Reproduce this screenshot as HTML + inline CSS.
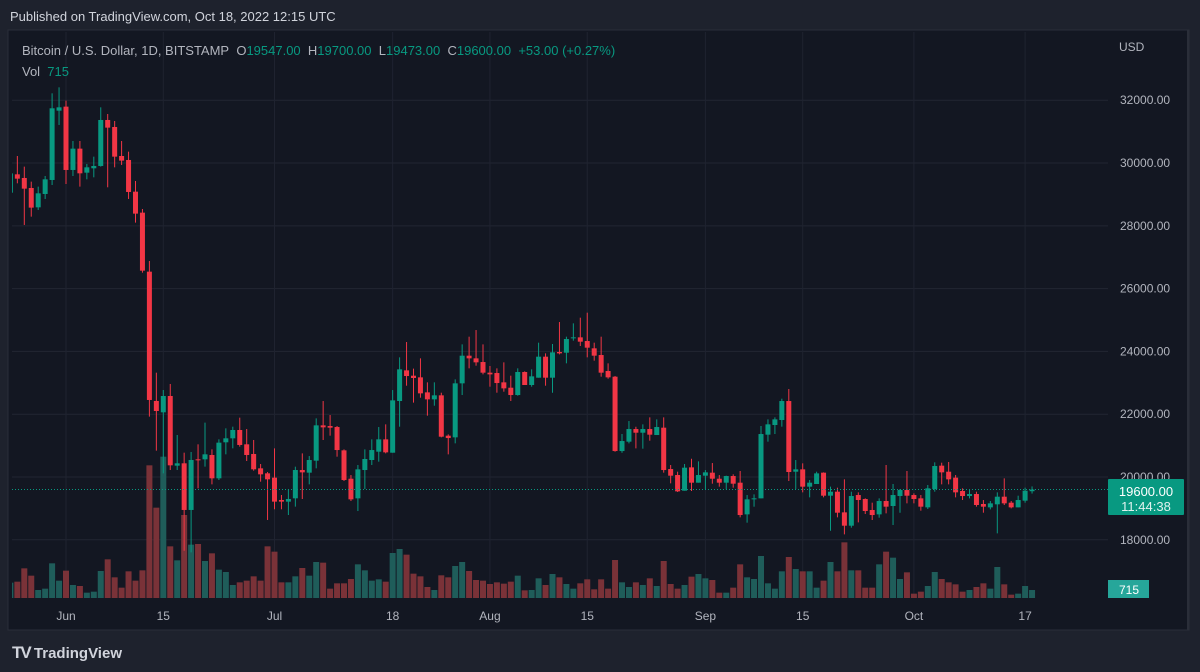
<!DOCTYPE html>
<html><head><meta charset="utf-8">
<style>
html,body{margin:0;padding:0;background:#1e222d;width:1200px;height:672px;overflow:hidden;font-family:"Liberation Sans",sans-serif}
#pub{position:absolute;left:10px;top:9px;color:#d1d4dc;font-size:13px}
#chart{position:absolute;left:0;top:0}
#legend{position:absolute;left:22px;top:40px;color:#b2b5be;font-size:13px;line-height:21px}
.g{color:#089981}
#footer{position:absolute;left:12px;top:643px;color:#d1d4dc;font-size:15px;font-weight:bold}
</style></head><body>
<div id="pub">Published on TradingView.com, Oct 18, 2022 12:15 UTC</div>
<svg id="chart" width="1200" height="672"></svg>
<div id="legend">
<div>Bitcoin / U.S. Dollar, 1D, BITSTAMP&nbsp; O<span class="g">19547.00</span>&nbsp; H<span class="g">19700.00</span>&nbsp; L<span class="g">19473.00</span>&nbsp; C<span class="g">19600.00</span>&nbsp; <span class="g">+53.00 (+0.27%)</span></div>
<div>Vol&nbsp; <span class="g">715</span></div>
</div>
<div id="footer"><span style="font-size:17px;letter-spacing:-2px">TV</span> TradingView</div>
<script>
const opens=[29055,29640,29524,29205,28589,29014,29460,31668,31796,29779,30458,29693,29832,29906,31371,31148,30224,30097,29088,28420,26540,22421,22060,22580,20361,20436,18950,20563,20563,20701,19958,21105,21232,21497,21041,20733,20276,20117,19979,19268,19215,19321,20222,20138,20520,21645,21624,21592,20849,19946,19320,20222,20541,20806,21199,20774,22420,23397,23227,23174,22696,22473,22601,21316,21263,22983,23864,23779,23662,23323,23312,23015,22844,22611,23344,22930,23163,23832,23163,23981,23959,24416,24448,24331,24098,23885,23376,23195,20827,21125,21528,21411,21528,21337,21571,20254,20063,19564,20307,19819,20042,20138,19946,19819,20031,19819,18810,19299,19320,21348,21656,21815,22420,20169,20244,19692,19777,20138,19405,19532,18874,18449,19426,19299,18949,18810,19235,19076,19394,19585,19426,19320,19033,19617,20361,20169,19979,19554,19394,19458,19140,19033,19130,19373,19182,19033,19246,19547];
const highs=[29700,30224,29885,29407,29248,29587,32220,32411,31987,30702,30702,29970,30203,31774,31562,31339,30702,30362,29428,28536,26880,23323,22771,22963,21338,20775,20797,21041,21731,20881,21200,21550,21603,21890,21529,21179,20414,20160,20913,19427,19607,20329,20753,20668,21868,22420,21974,21624,20880,20063,20382,20880,21199,21592,21677,22770,23811,24299,23450,23779,23015,23015,22685,21358,23110,24225,24469,24681,24225,23535,23461,23652,23227,23461,23365,23429,24278,23938,24236,24936,24469,24894,25074,25234,24278,24469,23620,23216,21369,21783,21600,21677,21900,21836,21900,20382,20169,20414,20583,20498,20222,20445,20063,20042,20085,20191,19426,19447,21624,21836,21900,22494,22802,20541,20435,19904,20169,20148,19692,19660,19926,19532,19511,19320,19182,19320,20382,19777,19617,20191,19479,19426,19745,20467,20456,20478,20063,19639,19607,19532,19267,19235,19511,19957,19235,19405,19660,19700];
const lows=[29000,29354,28027,28292,28505,28855,29300,31212,29333,29587,29248,29481,29545,29885,29227,29863,29938,28855,28101,26508,21922,20839,20117,20223,20223,17650,17600,19639,20329,19766,19904,20722,20913,20966,20510,20202,19851,18631,18971,18971,18790,19056,19299,19766,20276,21178,21316,20647,19872,19235,18916,19617,20382,20488,20753,20774,21602,22908,22367,22526,21953,22271,21263,20721,21072,22611,23461,23545,23269,22876,22685,22717,22420,22590,22930,22876,23163,22908,22685,23906,23620,24342,24172,23811,23705,23195,23131,20806,20774,21072,20912,20902,21157,21337,20138,19798,19522,19564,19553,19819,19617,19787,19692,19607,19660,18715,18545,19054,19320,21125,21369,21603,19872,19617,19511,19352,19777,19352,18290,18715,18173,18386,18555,18821,18630,18704,18842,18471,18863,19161,19161,18927,18980,19532,19766,19766,19352,19267,19320,19055,18863,18969,18205,19108,19001,19033,19182,19473];
const closes=[29670,29502,29184,28579,29035,29481,31743,31774,29779,30458,29672,29863,29906,31371,31127,30203,30076,29078,28388,26572,22453,22102,22580,20372,20436,18950,20542,20542,20722,19958,21094,21232,21497,21020,20701,20245,20085,19926,19215,19215,19300,20223,20148,20541,21645,21581,21571,20859,19904,19288,20244,20573,20859,21199,20785,22441,23429,23216,23153,22664,22473,22601,21284,21241,22983,23864,23779,23652,23323,23269,22993,22823,22611,23344,22930,23206,23832,23163,23970,23938,24395,24448,24310,24119,23864,23323,23174,20827,21146,21528,21411,21528,21348,21592,20222,20042,19543,20297,19819,20063,20148,19946,19819,20031,19787,18789,19288,19320,21369,21677,21836,22420,20159,20244,19692,19819,20116,19405,19532,18863,18449,19394,19267,18917,18789,19235,19055,19426,19585,19405,19299,19055,19639,20350,20148,19925,19511,19394,19458,19108,19055,19161,19373,19161,19033,19267,19564,19600];
const volumes=[1299,1378,2438,1855,716,822,2836,1458,2253,1113,1034,504,583,2226,3154,1723,901,2200,1458,2279,10627,7261,11316,4187,3074,6678,4320,4373,3021,3631,2332,2147,1113,1325,1458,1802,1458,4187,3763,1325,1325,1802,2465,1855,2942,2889,822,1246,1246,1590,2756,2279,1458,1564,1378,3657,3975,3525,2014,1802,954,716,1882,1723,2624,2942,2226,1511,1458,1193,1325,1219,1378,1855,689,716,1643,1113,1988,1723,1193,822,1246,1564,769,1564,822,3101,1325,954,1325,1113,1643,1034,3021,1193,822,1113,1776,1988,1643,1511,504,504,901,2756,1723,1590,3419,1246,822,2200,3339,2385,2200,2200,901,1458,2942,2200,4505,2279,2279,901,901,2756,3763,3286,1590,2120,424,583,1034,2147,1590,1325,1166,583,716,954,1246,822,2544,1166,345,424,1034,715];
const priceTicks=[18000,20000,22000,24000,26000,28000,30000,32000];
const timeTickIdx=[8,22,38,55,69,83,100,114,130,146];
const timeTickLabels=["Jun","15","Jul","18","Aug","15","Sep","15","Oct","17"];
const lastPrice=19600;

const NS="http://www.w3.org/2000/svg";
const svg=document.getElementById('chart');
const PL=12,PR=1108,PT=32,PB=598;
const xOf=i=>10.4+6.95*i;
const yOf=p=>477-(p-20000)/31.85;
const vH=v=>v/79.5;
function mk(tag,attrs,parent){const e=document.createElementNS(NS,tag);for(const k in attrs)e.setAttribute(k,attrs[k]);(parent||svg).appendChild(e);return e;}

const panel=mk('rect',{x:8,y:30,width:1181,height:600,fill:'#131722',stroke:'#2a2e39','stroke-width':1});


const axisBg=mk('rect',{x:PR,y:31,width:80,height:598,fill:'#131722'});


mk('line',{x1:1188,y1:30,x2:1188,y2:630,stroke:'#2a2e39','stroke-width':2});
mk('defs',{}).innerHTML='<clipPath id="cp"><rect x="12" y="32" width="1096" height="566"/></clipPath>';

const grid=mk('g',{});


priceTicks.forEach(p=>{mk('line',{x1:PL,x2:PR,y1:yOf(p),y2:yOf(p),stroke:'#222632','stroke-width':1},grid);});
timeTickIdx.forEach(i=>{mk('line',{x1:xOf(i),x2:xOf(i),y1:PT,y2:PB,stroke:'#1f2330','stroke-width':1},grid);});

const plot=mk('g',{'clip-path':'url(#cp)'});
const vg=mk('g',{},plot);


volumes.forEach((v,i)=>{
  const up=closes[i]>=opens[i];
  const h=vH(v);
  const r=mk('rect',{x:xOf(i)-3,y:PB+1-h,width:6,height:h,fill:up?'#1f5d5a':'#7a3238'},vg);
  
  
});
const cg=mk('g',{},plot);


opens.forEach((o,i)=>{
  const c=closes[i],up=c>=o,col=up?'#089981':'#f23645';
  const x=xOf(i);
  const g=mk('g',{},cg);
  
  
  mk('line',{x1:x,x2:x,y1:yOf(highs[i]),y2:yOf(lows[i]),stroke:col,'stroke-width':1},g);
  const t=yOf(Math.max(o,c)),b=yOf(Math.min(o,c));
  mk('rect',{x:x-2.5,y:t,width:5,height:Math.max(1,b-t),fill:col},g);
});
const pl=mk('line',{x1:PL,x2:PR,y1:yOf(lastPrice),y2:yOf(lastPrice),stroke:'#089981','stroke-width':1,'stroke-dasharray':'1 2'});



function txt(s,x,y,attrs,name){const t=mk('text',Object.assign({x:x,y:y,fill:'#b2b5be','font-size':12,'font-family':'Liberation Sans, sans-serif'},attrs||{}));t.textContent=s;return t;}
txt('USD',1119,51,{},'currency-label');
priceTicks.forEach(p=>{ txt(p.toFixed(2),1120,yOf(p)+4,{},'price-tick-label');});
timeTickIdx.forEach((i,k)=>{txt(timeTickLabels[k],xOf(i),620,{'text-anchor':'middle'},'time-tick-label');});

const pb=mk('rect',{x:1108,y:479,width:76,height:36,fill:'#089981',rx:1});


txt(lastPrice.toFixed(2),1146,496,{'text-anchor':'middle',fill:'#ffffff','font-size':13},'last-price-value');
txt('11:44:38',1146,511,{'text-anchor':'middle',fill:'#e0f2ef','font-size':13},'countdown-timer');
const vb=mk('rect',{x:1108,y:580,width:41,height:18,fill:'#26a69a'});


txt('715',1129,594,{'text-anchor':'middle',fill:'#ffffff','font-size':12},'volume-badge-value');
</script>
</body></html>
